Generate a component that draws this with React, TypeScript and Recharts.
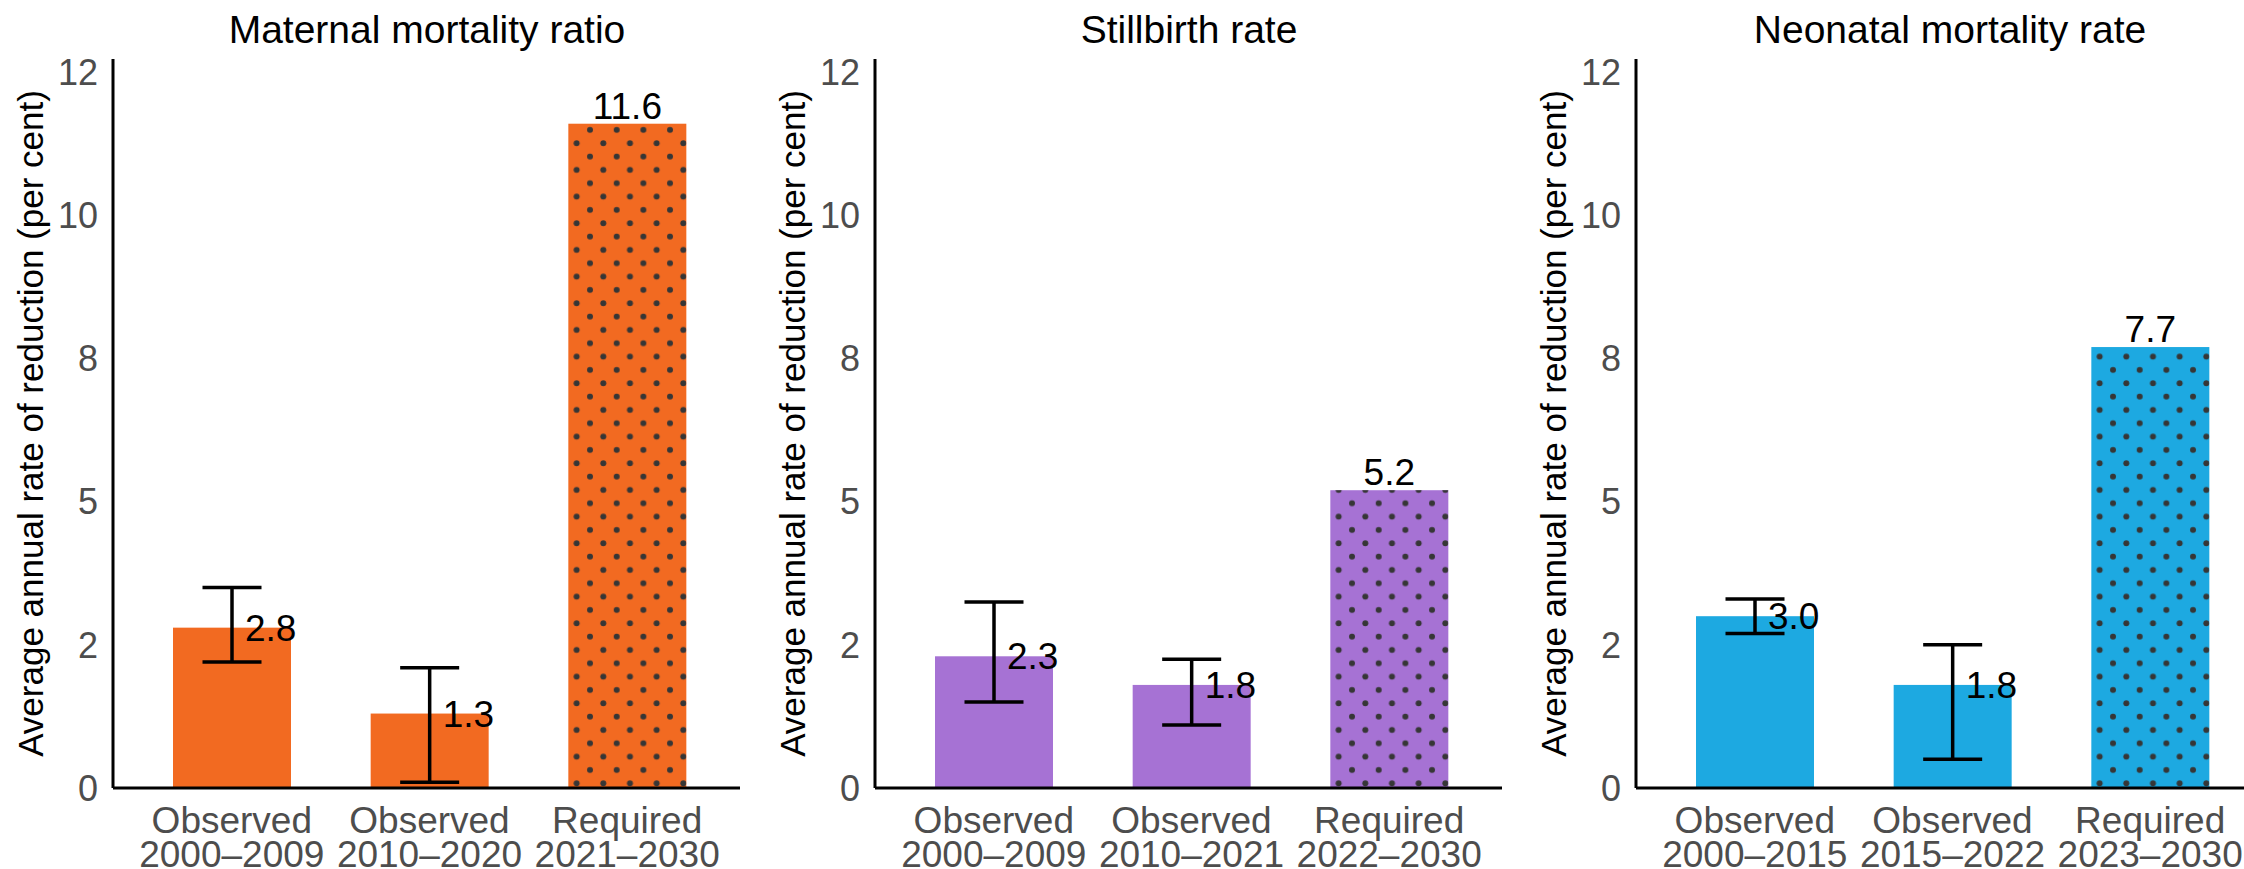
import { Bar, BarChart, ErrorBar, Label, LabelList, XAxis, YAxis } from "recharts";

const FONT = "'Liberation Sans', Arial, sans-serif";
const TICK_GREY = "#4D4D4D";
const DOT_COLOR = "#363636";

const panelTitles = ["Maternal mortality ratio", "Stillbirth rate", "Neonatal mortality rate"];
const panelColors = ["#F26A21", "#A672D4", "#1DA9E1"];

const maternalCategories = ["Observed\n2000–2009", "Observed\n2010–2020", "Required\n2021–2030"];
const maternalValues = [2.8, 1.3, 11.6];
const maternalLower = [2.2, 0.1, null];
const maternalUpper = [3.5, 2.1, null];

const stillbirthCategories = ["Observed\n2000–2009", "Observed\n2010–2021", "Required\n2022–2030"];
const stillbirthValues = [2.3, 1.8, 5.2];
const stillbirthLower = [1.5, 1.1, null];
const stillbirthUpper = [3.25, 2.25, null];

const neonatalCategories = ["Observed\n2000–2015", "Observed\n2015–2022", "Required\n2023–2030"];
const neonatalValues = [3.0, 1.8, 7.7];
const neonatalLower = [2.7, 0.5, null];
const neonatalUpper = [3.3, 2.5, null];

const yTicks = [0, 2.5, 5, 7.5, 10, 12.5];
const yTickLabels = ["0", "2", "5", "8", "10", "12"];
const Y_MAX = 12.73;

const Y_TITLE = "Average annual rate of reduction (per cent)";

type Row = {
  category: string;
  value: number;
  error: [number, number] | undefined;
  required: boolean;
};

function buildRows(
  categories: string[],
  values: number[],
  lower: (number | null)[],
  upper: (number | null)[],
): Row[] {
  return categories.map((category, i) => {
    const lo = lower[i];
    const hi = upper[i];
    return {
      category,
      value: values[i],
      error: lo != null && hi != null ? [values[i] - lo, hi - values[i]] : undefined,
      required: category.startsWith("Required"),
    };
  });
}

const panels = [
  buildRows(maternalCategories, maternalValues, maternalLower, maternalUpper),
  buildRows(stillbirthCategories, stillbirthValues, stillbirthLower, stillbirthUpper),
  buildRows(neonatalCategories, neonatalValues, neonatalLower, neonatalUpper),
];

const PANEL_WIDTH = 762;
const PANEL_STEP = 761.7;
const HEIGHT = 869;

function CategoryTick({ x, y, payload }: any) {
  const [kind, period] = String(payload.value).split("\n");
  return (
    <text x={x} y={y} textAnchor="middle" fill={TICK_GREY} fontSize={37} fontFamily={FONT}>
      <tspan x={x} dy={45}>{kind}</tspan>
      <tspan x={x} dy={34}>{period}</tspan>
    </text>
  );
}

function YTitle(props: any) {
  const vb = props.viewBox ?? { x: 0, y: 59, width: 113, height: 729 };
  const cx = vb.x + 42.5;
  const cy = vb.y + vb.height / 2;
  return (
    <text
      x={cx}
      y={cy}
      transform={`rotate(-90 ${cx} ${cy})`}
      textAnchor="middle"
      fill="#000"
      fontSize={35}
      fontFamily={FONT}
    >
      {Y_TITLE}
    </text>
  );
}

function makeBarShape(panelIndex: number) {
  return function BarShape(props: any) {
    const { x, y, width, height, fill, payload, index } = props;
    if (!payload?.required) {
      return <rect x={x} y={y} width={width} height={height} fill={fill} />;
    }
    const id = `dots-${panelIndex}-${index}`;
    return (
      <g>
        <defs>
          <pattern
            id={id}
            patternUnits="userSpaceOnUse"
            x={x}
            y={y + height}
            width={26.67}
            height={26.67}
          >
            <circle cx={8.3} cy={22} r={3} fill={DOT_COLOR} />
            <circle cx={21.7} cy={8.67} r={3} fill={DOT_COLOR} />
          </pattern>
        </defs>
        <rect x={x} y={y} width={width} height={height} fill={fill} />
        <rect x={x} y={y} width={width} height={height} fill={`url(#${id})`} />
      </g>
    );
  };
}

function makeValueLabel(rows: Row[]) {
  return function ValueLabel(props: any) {
    const { x, y, width, index, value } = props;
    const row = rows[index];
    const text = Number(value).toFixed(1);
    const cx = Number(x) + Number(width) / 2;
    if (row?.required) {
      return (
        <text x={cx} y={Number(y) - 5} textAnchor="middle" fill="#000" fontSize={37} fontFamily={FONT}>
          {text}
        </text>
      );
    }
    return (
      <text x={cx + 13} y={Number(y) + 13} textAnchor="start" fill="#000" fontSize={37} fontFamily={FONT}>
        {text}
      </text>
    );
  };
}

function Panel({ rows, title, color, panelIndex }: { rows: Row[]; title: string; color: string; panelIndex: number }) {
  return (
    <div
      style={{
        position: "absolute",
        left: Math.round(panelIndex * PANEL_STEP),
        top: 0,
        width: PANEL_WIDTH,
        height: HEIGHT,
      }}
    >
      <div
        style={{
          position: "absolute",
          left: 427 - 300,
          width: 600,
          top: 10,
          textAlign: "center",
          fontSize: 39,
          lineHeight: "39px",
          fontFamily: FONT,
          color: "#000",
          whiteSpace: "nowrap",
        }}
      >
        {title}
      </div>
      <BarChart
        width={PANEL_WIDTH}
        height={HEIGHT}
        data={rows}
        margin={{ top: 59, right: 22, bottom: 0, left: 0 }}
      >
        <XAxis
          dataKey="category"
          type="category"
          interval={0}
          height={81}
          padding={{ left: 20, right: 14 }}
          tickLine={false}
          tickSize={0}
          tickMargin={0}
          axisLine={{ stroke: "#000", strokeWidth: 3 }}
          tick={<CategoryTick />}
        />
        <YAxis
          type="number"
          width={113}
          domain={[0, Y_MAX]}
          ticks={yTicks}
          tickFormatter={(v) => yTickLabels[yTicks.indexOf(Number(v))] ?? String(v)}
          tickLine={false}
          tickSize={0}
          tickMargin={15}
          axisLine={{ stroke: "#000", strokeWidth: 3 }}
          tick={{ fill: TICK_GREY, fontSize: 36, fontFamily: FONT }}
        >
          <Label content={(props: any) => <YTitle {...props} />} />
        </YAxis>
        <Bar
          dataKey="value"
          fill={color}
          barSize={118}
          shape={makeBarShape(panelIndex)}
          isAnimationActive={false}
        >
          <ErrorBar dataKey="error" width={29.5} strokeWidth={3.5} stroke="#000" isAnimationActive={false} />
          <LabelList dataKey="value" content={makeValueLabel(rows)} />
        </Bar>
      </BarChart>
    </div>
  );
}

export default function App() {
  return (
    <div
      style={{
        position: "absolute",
        left: 0,
        top: 0,
        width: 2244,
        height: HEIGHT,
        overflow: "hidden",
        background: "#fff",
      }}
    >
      {panels.map((rows, i) => (
        <Panel key={panelTitles[i]} rows={rows} title={panelTitles[i]} color={panelColors[i]} panelIndex={i} />
      ))}
    </div>
  );
}
